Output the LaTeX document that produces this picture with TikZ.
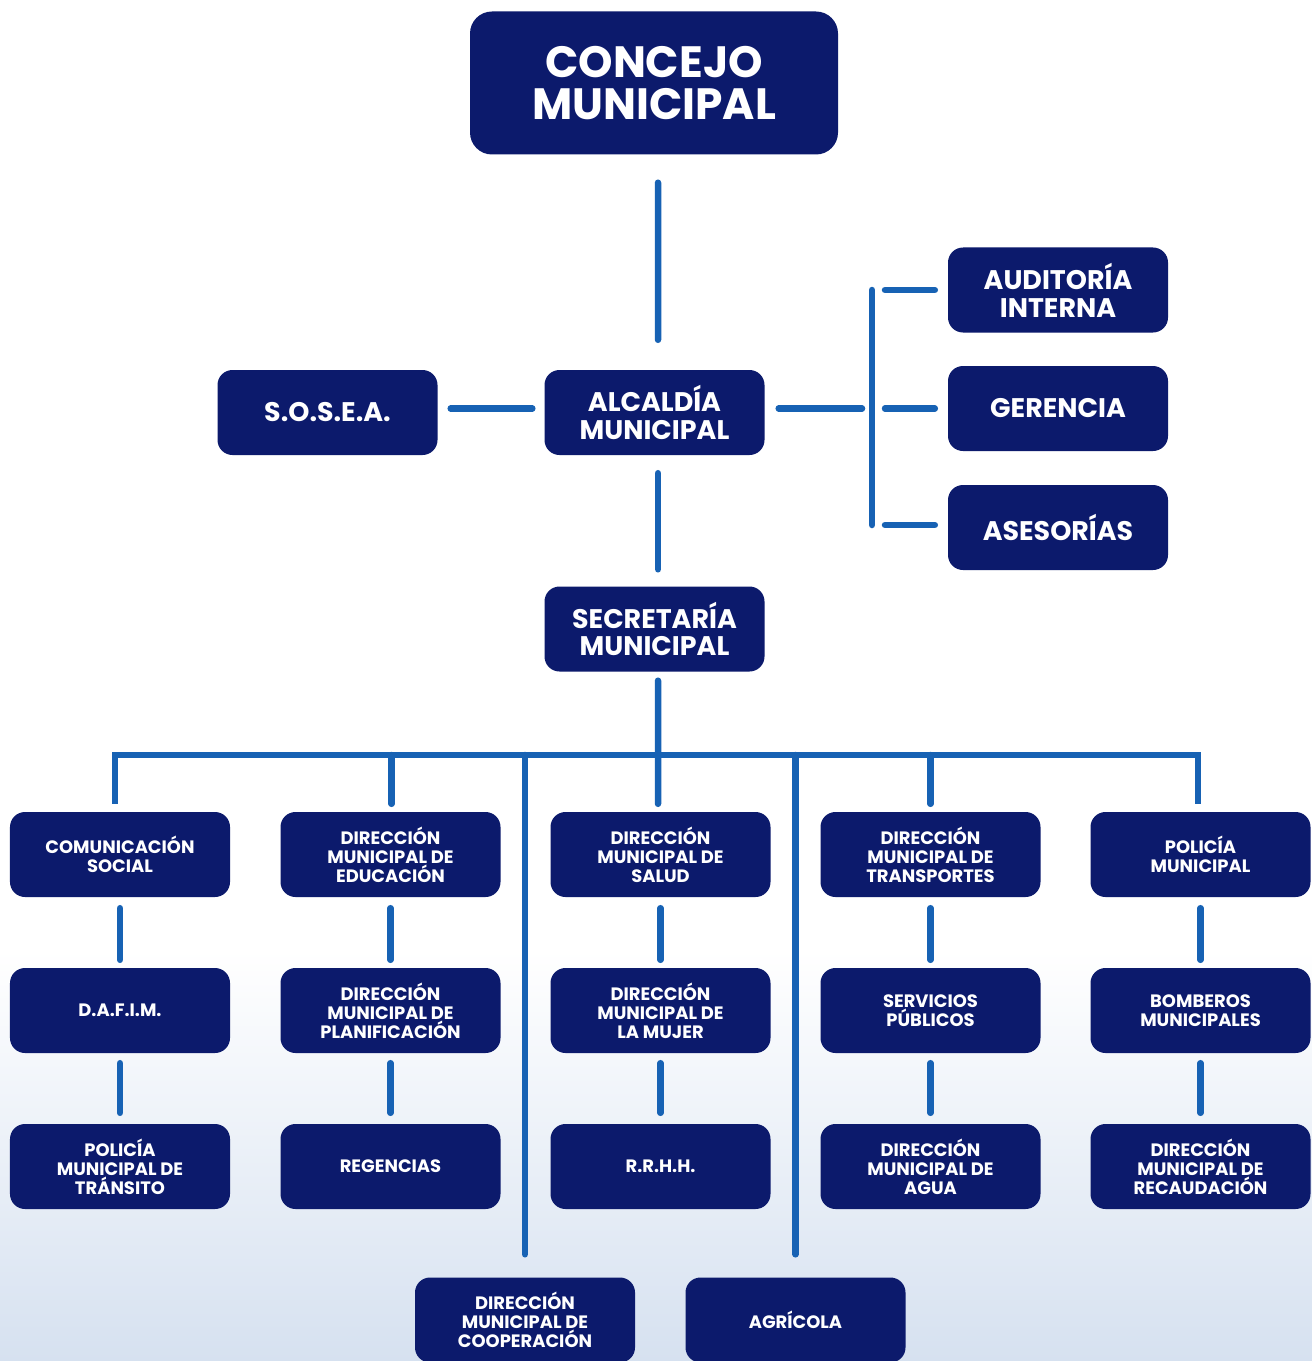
\documentclass[tikz,border=0pt]{standalone}
\usepackage{fontspec}
\setmainfont{Poppins}
\begin{document}
\begin{tikzpicture}[x=1bp,y=-1bp,
  box/.style={draw=none,fill=navy,rounded corners=15bp,text=white,align=center,
    minimum width=220bp,minimum height=85bp,inner sep=0pt,
    font=\fontsize{18}{19}\selectfont\bfseries},
  midbox/.style={box,font=\fontsize{27}{28}\selectfont\bfseries},
  bigbox/.style={box,rounded corners=22bp,minimum width=368bp,minimum height=143bp,
    font=\fontsize{44}{43}\selectfont\bfseries},
  conn/.style={draw=lineblue,line width=6.5bp,line cap=round}]
\definecolor{navy}{HTML}{0C1A6C}
\definecolor{lineblue}{HTML}{1762B4}
\definecolor{bgblue}{HTML}{D6E1F0}
\useasboundingbox (0,0) rectangle (1312,1361);
\fill[white] (0,0) rectangle (1312,1361);
\shade[top color=white,bottom color=bgblue] (0,950) rectangle (1312,1361);

% nodes
\node[bigbox] (concejo) at (654,83) {CONCEJO\\MUNICIPAL};
\node[midbox] (alcaldia) at (654.5,412.5) {ALCALDÍA\\MUNICIPAL};
\node[midbox] (sosea) at (327.5,412.5) {S.O.S.E.A.};
\node[midbox] (audit) at (1058,290) {AUDITORÍA\\INTERNA};
\node[midbox] (geren) at (1058,408.5) {GERENCIA};
\node[midbox] (ases) at (1058,527.5) {ASESORÍAS};
\node[midbox] (secre) at (654.5,629) {SECRETARÍA\\MUNICIPAL};

\node[box] (a1) at (120,854.5) {COMUNICACIÓN\\SOCIAL};
\node[box] (a2) at (120,1010.5) {D.A.F.I.M.};
\node[box] (a3) at (120,1166.5) {POLICÍA\\MUNICIPAL DE\\TRÁNSITO};
\node[box] (b1) at (390.5,854.5) {DIRECCIÓN\\MUNICIPAL DE\\EDUCACIÓN};
\node[box] (b2) at (390.5,1010.5) {DIRECCIÓN\\MUNICIPAL DE\\PLANIFICACIÓN};
\node[box] (b3) at (390.5,1166.5) {REGENCIAS};
\node[box] (c1) at (660.5,854.5) {DIRECCIÓN\\MUNICIPAL DE\\SALUD};
\node[box] (c2) at (660.5,1010.5) {DIRECCIÓN\\MUNICIPAL DE\\LA MUJER};
\node[box] (c3) at (660.5,1166.5) {R.R.H.H.};
\node[box] (d1) at (930.5,854.5) {DIRECCIÓN\\MUNICIPAL DE\\TRANSPORTES};
\node[box] (d2) at (930.5,1010.5) {SERVICIOS\\PÚBLICOS};
\node[box] (d3) at (930.5,1166.5) {DIRECCIÓN\\MUNICIPAL DE\\AGUA};
\node[box] (e1) at (1200.5,854.5) {POLICÍA\\MUNICIPAL};
\node[box] (e2) at (1200.5,1010.5) {BOMBEROS\\MUNICIPALES};
\node[box] (e3) at (1200.5,1166.5) {DIRECCIÓN\\MUNICIPAL DE\\RECAUDACIÓN};
\node[box] (f1) at (525,1320) {DIRECCIÓN\\MUNICIPAL DE\\COOPERACIÓN};
\node[box] (f2) at (795.5,1320) {AGRÍCOLA};

% coordinates
\coordinate (bar) at (872,408.5);
\coordinate (bartop) at (872,290);
\coordinate (barbot) at (872,525);
\coordinate (busL) at (115,755);
\coordinate (busR) at (1198,755);
\coordinate (busM) at (658,755);

% connectors
\draw[conn,shorten <=28bp,shorten >=30bp] ([xshift=4bp]concejo.south) -- ([xshift=3.5bp]alcaldia.north);
\draw[conn,shorten <=13bp,shorten >=12bp] (sosea.east |- bar) -- (alcaldia.west |- bar);
\draw[conn,shorten <=14bp,shorten >=10bp] (alcaldia.east |- bar) -- (bar);
\draw[conn] (bartop) -- (barbot);
\draw[conn,shorten <=13bp,shorten >=13bp] (bartop) -- (bartop -| audit.west);
\draw[conn,shorten <=13bp,shorten >=13bp] (bar) -- (bar -| geren.west);
\draw[conn,shorten <=13bp,shorten >=13bp] (barbot) -- (barbot -| ases.west);
\draw[conn,shorten <=18bp,shorten >=17bp] ([xshift=3.5bp]alcaldia.south) -- ([xshift=3.5bp]secre.north);
\draw[conn,shorten <=9bp] ([xshift=3.5bp]secre.south) -- (busM);
\draw[conn,line cap=butt,line join=miter] ([yshift=8bp]a1.north -| busL) -- (busL) -- (busR) -- ([yshift=8bp]e1.north -| busR);
\draw[conn,shorten >=8bp] ([xshift=1bp]b1.north |- busM) -- ([xshift=1bp]b1.north);
\draw[conn,shorten >=8bp] (busM) -- ([xshift=-2.5bp]c1.north);
\draw[conn,shorten >=8bp] (d1.north |- busM) -- (d1.north);
\draw[conn,shorten >=23bp] (f1.north |- busM) -- (f1.north);
\draw[conn,shorten >=23bp] (f2.north |- busM) -- (f2.north);
\foreach \c in {a,b,c,d,e}{
  \draw[conn,shorten <=11bp,shorten >=8bp] (\c1.south) -- (\c2.north);
  \draw[conn,shorten <=10bp,shorten >=11bp] (\c2.south) -- (\c3.north);
}
\end{tikzpicture}
\end{document}
